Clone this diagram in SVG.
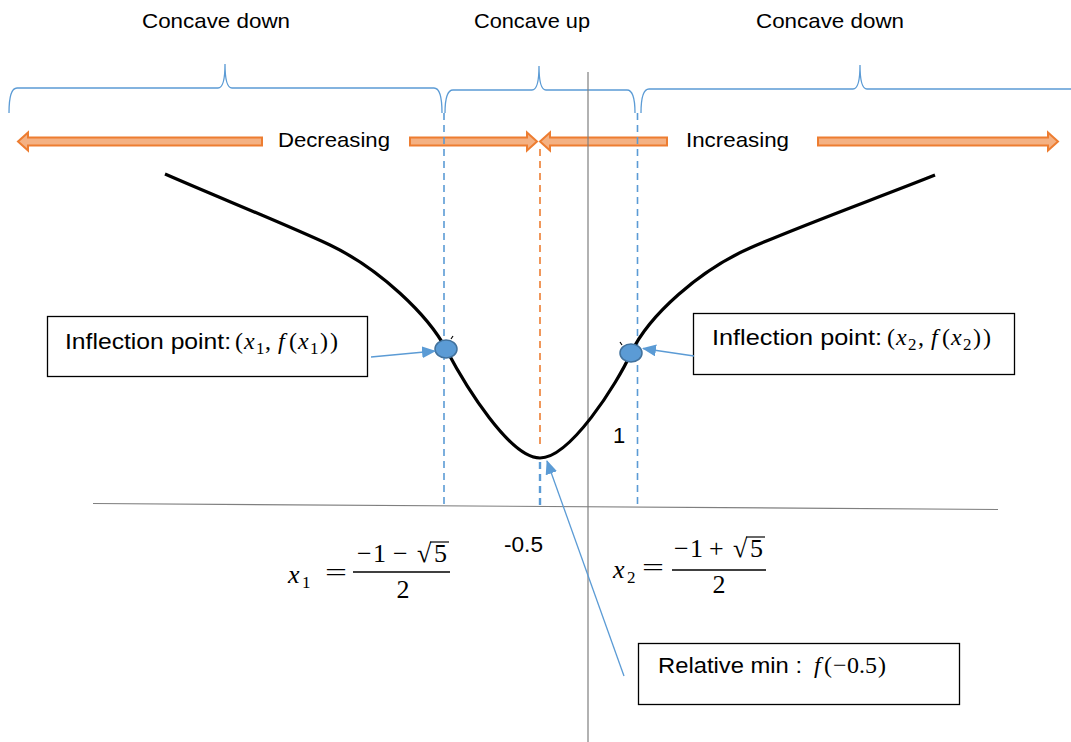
<svg xmlns="http://www.w3.org/2000/svg" width="1071" height="742" viewBox="0 0 1071 742">
<defs>
<style>
.txt{font-family:"Liberation Sans",Arial,sans-serif;font-size:21px;fill:#000}
.btxt{font-family:"Liberation Sans",Arial,sans-serif;font-size:22px;fill:#000}
.m{font-family:"Liberation Serif","DejaVu Serif",serif;font-size:26px;fill:#000}
.mb{font-family:"Liberation Serif","DejaVu Serif",serif;font-size:24px;fill:#000}
.sub{font-family:"Liberation Serif","DejaVu Serif",serif;font-size:17px;fill:#000}
.it{font-style:italic}
.brace{fill:none;stroke:#5B9BD5;stroke-width:1.3}
.oarrow{fill:#F4B183;stroke:#ED7D31;stroke-width:2;stroke-linejoin:miter}
.bdash{stroke:#5B9BD5;stroke-width:1.6;stroke-dasharray:7,5;fill:none}
.odash{stroke:#ED7D31;stroke-width:1.6;stroke-dasharray:7,5;fill:none}
.axis{stroke:#7F7F7F;stroke-width:1.2;fill:none}
.box{fill:#fff;stroke:#000;stroke-width:1.3}
.dot{fill:#5B9BD5;stroke:#41719C;stroke-width:1.5}
.conn{stroke:#5B9BD5;stroke-width:1.3;fill:none}
.bar{stroke:#000;stroke-width:1.5}
.vinc{stroke:#000;stroke-width:1.2}
</style>
<marker id="ah" markerUnits="userSpaceOnUse" markerWidth="14" markerHeight="12" refX="13" refY="6" orient="auto">
<path d="M0,0 L14,6 L0,12 Z" fill="#5B9BD5"/>
</marker>
</defs>
<rect width="1071" height="742" fill="#fff"/>

<g id="top-labels">
<text class="txt" x="142" y="28" textLength="148" lengthAdjust="spacingAndGlyphs">Concave down</text>
<text class="txt" x="474" y="28" textLength="116" lengthAdjust="spacingAndGlyphs">Concave up</text>
<text class="txt" x="756" y="28" textLength="148" lengthAdjust="spacingAndGlyphs">Concave down</text>
</g>

<g id="braces">
<path class="brace" d="M9,113 Q9,88 17,88 L218,88 Q225,88 225,64 Q225,88 232,88 L434,88 Q442,88 442,113"/>
<path class="brace" d="M445,113 Q445,90 453,90 L532,90 Q539,90 539,66 Q539,90 546,90 L627,90 Q635,90 635,113"/>
<path class="brace" d="M641,113 Q641,89 649,89 L853,89 Q860,89 860,65 Q860,89 867,89 L1071,89"/>
</g>

<g id="monotonic-arrows">
<polygon class="oarrow" points="18,141.5 28,132.5 28,137.5 262,137.5 262,145.5 28,145.5 28,150.5"/>
<polygon class="oarrow" points="410,137.5 527,137.5 527,132.5 537,141.5 527,150.5 527,145.5 410,145.5"/>
<polygon class="oarrow" points="540,141.5 550,132.5 550,137.5 667,137.5 667,145.5 550,145.5 550,150.5"/>
<polygon class="oarrow" points="818,137.5 1048,137.5 1048,132.5 1058,141.5 1048,150.5 1048,145.5 818,145.5"/>
<text class="txt" x="278" y="147" textLength="112" lengthAdjust="spacingAndGlyphs">Decreasing</text>
<text class="txt" x="686" y="147" textLength="103" lengthAdjust="spacingAndGlyphs">Increasing</text>
</g>

<g id="axes">
<line class="axis" x1="93" y1="503.5" x2="998" y2="509.5"/>
<line class="axis" x1="588" y1="72" x2="588" y2="742"/>
</g>

<g id="guides">
<line class="bdash" x1="444" y1="113" x2="444" y2="505"/>
<line class="bdash" x1="637.5" y1="113" x2="637.5" y2="507"/>
<line class="odash" x1="540" y1="149" x2="540" y2="448"/>
<line class="bdash" x1="540" y1="462" x2="540" y2="506" style="stroke-width:2.4"/>
</g>

<g id="curve">
<path d="M165,174 C220,198 280,222 330,245 C380,269 428,315 446,349 C466,387 510,458 540,458 C570,458 617,384 631,353 C649,315 700,270 750,248 C800,226 880,197 935,175" fill="none" stroke="#000" stroke-width="3.2"/>
</g>

<g id="inflection-1">
<ellipse class="dot" cx="446" cy="349" rx="11" ry="9"/>
<path d="M451,339 L453,336" stroke="#000" stroke-width="1.2"/>
</g>
<g id="inflection-2">
<ellipse class="dot" cx="631" cy="353" rx="11" ry="9"/>
<path d="M622,345 L620,342" stroke="#000" stroke-width="1.2"/>
</g>

<g id="axis-labels">
<text class="txt" x="613" y="443" style="font-size:22px">1</text>
<text class="txt" x="504" y="552" style="font-size:22px" textLength="39" lengthAdjust="spacingAndGlyphs">-0.5</text>
</g>

<g id="x1-formula">
<text class="m it" x="288" y="583">x</text>
<text class="sub" x="302" y="588">1</text>
<text class="m" x="325" y="581" textLength="22" lengthAdjust="spacingAndGlyphs">=</text>
<text class="m" x="357" y="562">−</text>
<text class="m" x="373" y="562">1</text>
<text class="m" x="393" y="562">−</text>
<text class="m" x="417" y="562">√</text>
<text class="m" x="434" y="562">5</text>
<line class="vinc" x1="430" y1="542" x2="449" y2="542"/>
<line class="bar" x1="353" y1="572" x2="450" y2="572"/>
<text class="m" x="403" y="598" text-anchor="middle">2</text>
</g>

<g id="x2-formula">
<text class="m it" x="613" y="578">x</text>
<text class="sub" x="627" y="583">2</text>
<text class="m" x="642" y="576" textLength="22" lengthAdjust="spacingAndGlyphs">=</text>
<text class="m" x="674" y="557">−</text>
<text class="m" x="690" y="557">1</text>
<text class="m" x="709" y="557">+</text>
<text class="m" x="733" y="557">√</text>
<text class="m" x="750" y="557">5</text>
<line class="vinc" x1="746" y1="537" x2="765" y2="537"/>
<line class="bar" x1="672" y1="570" x2="766" y2="570"/>
<text class="m" x="719" y="593" text-anchor="middle">2</text>
</g>

<g id="box-inflection-1">
<rect class="box" x="47.5" y="316.5" width="320" height="60"/>
<text class="btxt" x="65" y="349" textLength="166" lengthAdjust="spacingAndGlyphs">Inflection point:</text>
<text class="mb" x="235" y="349">(</text>
<text class="mb it" x="244" y="349">x</text>
<text class="sub" x="256" y="354">1</text>
<text class="mb" x="265" y="349">,</text>
<text class="mb it" x="278" y="349">f</text>
<text class="mb" x="289" y="349">(</text>
<text class="mb it" x="298" y="349">x</text>
<text class="sub" x="310" y="354">1</text>
<text class="mb" x="320" y="349">)</text>
<text class="mb" x="330" y="349">)</text>
</g>

<g id="box-inflection-2">
<rect class="box" x="693.5" y="313.5" width="321" height="61"/>
<text class="btxt" x="712" y="345" textLength="170" lengthAdjust="spacingAndGlyphs">Inflection point:</text>
<text class="mb" x="887" y="345">(</text>
<text class="mb it" x="896" y="345">x</text>
<text class="sub" x="908" y="350">2</text>
<text class="mb" x="918" y="345">,</text>
<text class="mb it" x="931" y="345">f</text>
<text class="mb" x="942" y="345">(</text>
<text class="mb it" x="951" y="345">x</text>
<text class="sub" x="963" y="350">2</text>
<text class="mb" x="973" y="345">)</text>
<text class="mb" x="983" y="345">)</text>
</g>

<g id="box-relative-min">
<rect class="box" x="638.5" y="643.5" width="321" height="61"/>
<text class="btxt" x="658" y="673" textLength="144" lengthAdjust="spacingAndGlyphs">Relative min :</text>
<text class="mb it" x="814" y="673">f</text>
<text class="mb" x="824" y="673">(</text>
<text class="mb" x="833" y="673">−</text>
<text class="mb" x="847" y="673">0</text>
<text class="mb" x="859" y="673">.</text>
<text class="mb" x="865" y="673">5</text>
<text class="mb" x="878" y="673">)</text>
</g>

<g id="connectors">
<line class="conn" x1="371" y1="357" x2="435" y2="351" marker-end="url(#ah)"/>
<line class="conn" x1="694" y1="356" x2="643" y2="348.5" marker-end="url(#ah)"/>
<line class="conn" x1="624" y1="676" x2="547" y2="461" marker-end="url(#ah)"/>
</g>
</svg>
